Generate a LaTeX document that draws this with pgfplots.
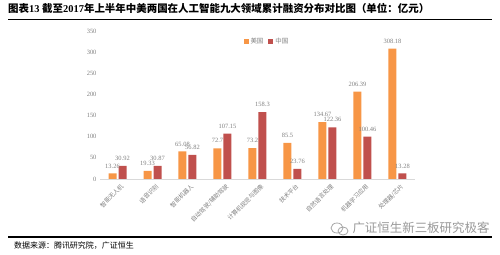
\documentclass[border=0pt]{standalone}
\usepackage{fontspec}
\setmainfont{Liberation Serif}
\newfontfamily\cjk{Noto Sans CJK SC}
\usepackage{pgfplots}
\usepackage{pgfplotstable}
\pgfplotsset{compat=1.18}

\definecolor{usorange}{HTML}{F79646}
\definecolor{cnred}{HTML}{C0504D}
\definecolor{txtgray}{HTML}{808080}
\definecolor{gridgray}{HTML}{D9D9D9}

% Cumulative financing by field (100 million yuan)
\pgfplotstableread{
idx us cn
0 13.26 30.92
1 19.33 30.87
2 65.08 56.82
3 72.7 107.15
4 73.2 158.3
5 85.5 23.76
6 134.67 122.36
7 206.39 100.46
8 308.18 13.28
}\fundtable

\begin{document}
\begin{tikzpicture}[x=1bp,y=1bp]
\useasboundingbox (0bp,0bp) rectangle (500bp,255bp);

% header and rules
\node[anchor=west, inner sep=0pt, font=\fontsize{10.5}{12}\selectfont\bfseries] at (8bp,247bp)
  {{\cjk\bfseries 图表}13 {\cjk\bfseries 截至}2017{\cjk\bfseries 年上半年中美两国在人工智能九大领域累计融资分布对比图（单位：亿元）}};
\draw[line width=1.4bp, black] (8bp,235.5bp) -- (492bp,235.5bp);
\draw[line width=1.4bp, black] (8bp,18bp) -- (492bp,18bp);
\node[anchor=west, inner sep=0pt, font=\cjk\fontsize{8}{9}\selectfont] at (14bp,9.5bp)
  {数据来源：腾讯研究院，广证恒生};
\node[anchor=center, inner sep=0pt, text=black!40, font=\cjk\fontsize{12.5}{13}\selectfont] at (421bp,27bp)
  {广证恒生新三板研究极客};
\draw[black!35, line width=0.8bp] (337bp,27bp) ellipse (6bp and 5bp);
\draw[black!35, line width=0.8bp] (343bp,24bp) ellipse (5bp and 4bp);

\begin{axis}[
  at={(100bp,76bp)}, anchor=south west,
  scale only axis, width=315bp, height=148bp,
  ymin=0, ymax=350, xmin=-0.5, xmax=8.5,
  ybar=2bp, bar width=8bp,
  axis lines*=left,
  y axis line style={draw=none},
  x axis line style={draw=gridgray, line width=0.8bp},
  major tick length=0pt,
  ytick={0,50,...,350},
  xtick={0,...,8},
  xticklabels={智能无人机,语音识别,智能机器人,自动驾驶/辅助驾驶,计算机视觉与图像,技术平台,自然语言处理,机器学习应用,处理器/芯片},
  xticklabel style={font=\cjk\fontsize{6}{7}\selectfont, text=txtgray, rotate=45, anchor=north east, inner sep=1bp, yshift=-4bp},
  yticklabel style={font=\fontsize{6.5}{7}\selectfont, text=txtgray},
  /pgf/number format/assume math mode=true,
  point meta=explicit symbolic,
  nodes near coords,
  nodes near coords style={font=\fontsize{6.5}{7}\selectfont, text=txtgray, inner sep=1bp, yshift=4bp},
  legend style={at={(0.53,0.93)}, anchor=center, draw=none, fill=none,
    legend columns=2, font=\cjk\fontsize{6.5}{7}\selectfont, text=txtgray,
    /tikz/every even column/.append style={column sep=3bp}},
  legend image code/.code={\fill[#1] (0bp,-2.5bp) rectangle (5bp,2.5bp);},
  clip=false,
]
\addplot[fill=usorange, draw=none] table[x=idx, y=us, meta=us] {\fundtable};
\addplot[fill=cnred, draw=none] table[x=idx, y=cn, meta=cn] {\fundtable};
\legend{美国,中国}
\end{axis}
\end{tikzpicture}
\end{document}
